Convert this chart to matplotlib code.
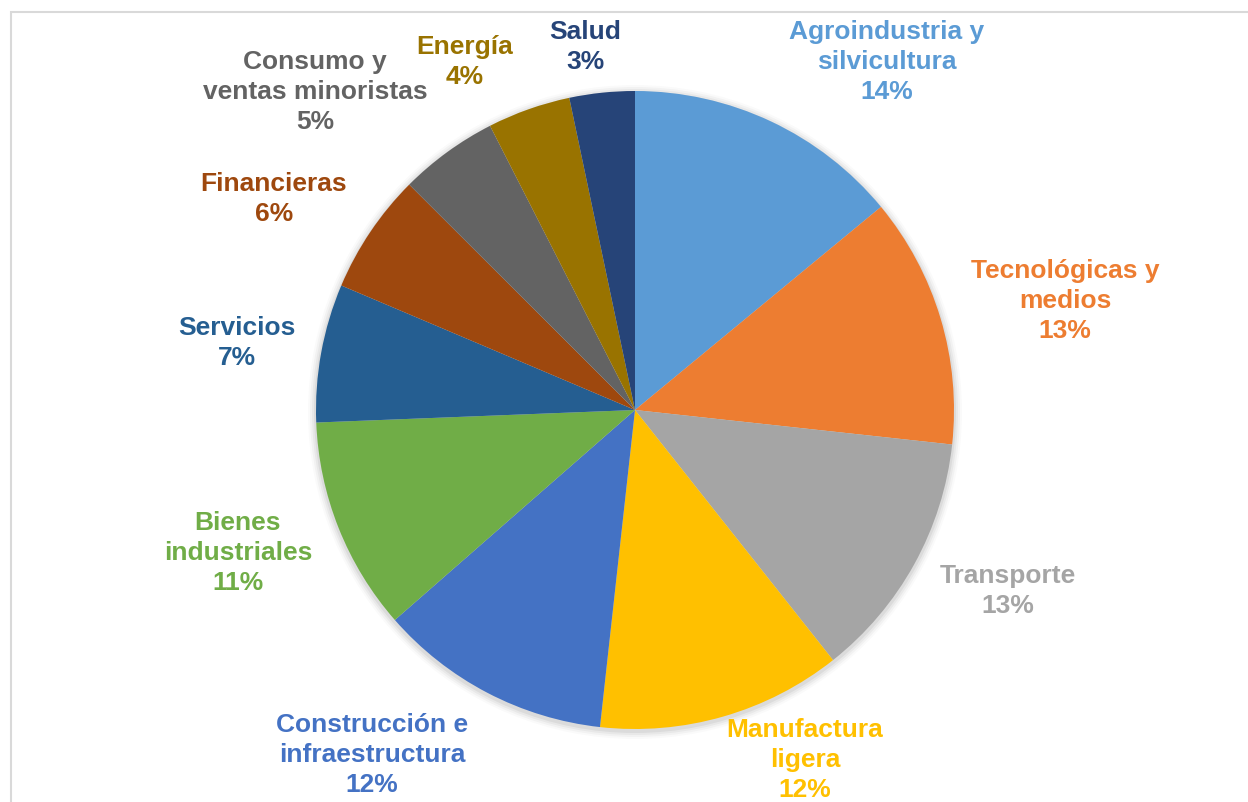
import matplotlib.pyplot as plt
from matplotlib.patches import Rectangle, Circle

# data (clockwise from 12 o'clock)
sectors = [
    "Agroindustria y\nsilvicultura",
    "Tecnológicas y\nmedios",
    "Transporte",
    "Manufactura\nligera",
    "Construcción e\ninfraestructura",
    "Bienes\nindustriales",
    "Servicios",
    "Financieras",
    "Consumo y\nventas minoristas",
    "Energía",
    "Salud",
]
shares = [14.0, 12.7, 12.6, 12.4, 11.8, 10.8, 7.0, 6.1, 5.0, 4.2, 3.3]
colors = ["#5B9BD5", "#ED7D31", "#A5A5A5", "#FFC000", "#4472C4", "#70AD47",
          "#255E91", "#9E480E", "#636363", "#997300", "#264478"]

# label centres in pixel coords (x, y from top)
label_pos = [(887, 62), (1065, 301), (1008, 591), (805, 760), (372, 755),
             (238, 553), (237, 343), (274, 199), (315, 92), (465, 62), (585, 47)]

W, H = 1248, 802
fig = plt.figure(figsize=(W / 100, H / 100), dpi=100)
ax = fig.add_axes([0, 0, 1, 1])

# chart frame (runs off right/bottom edges)
ax.add_patch(Rectangle((11, -20), W + 50, H - 12 + 20, fill=False,
                       edgecolor="#D9D9D9", linewidth=1.5))

cx, cy, r = 635, H - 410, 319

# soft shadow
for i, a in enumerate([0.05, 0.04, 0.03, 0.02]):
    ax.add_patch(Circle((cx, cy - 2), r + 2 + i * 2, color="black", alpha=a,
                        linewidth=0, zorder=1))

ax.pie(shares, colors=colors, startangle=90, counterclock=False,
       center=(cx, cy), radius=r, frame=True,
       wedgeprops=dict(linewidth=0, zorder=2))
ax.set_xlim(0, W)
ax.set_ylim(0, H)
ax.set_aspect("equal")
ax.axis("off")

for name, val, col, (lx, ly) in zip(sectors, shares, colors, label_pos):
    ax.text(lx, H - ly, f"{name}\n{round(val):.0f}%", color=col,
            fontsize=19, fontweight="bold", family="Liberation Sans",
            ha="center", va="center", linespacing=1.32, zorder=3)

fig.savefig("out.png", dpi=100, facecolor="white")
